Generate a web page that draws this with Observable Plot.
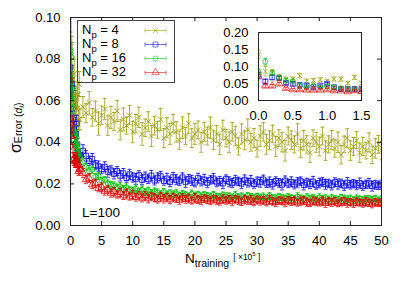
<!DOCTYPE html>
<html><head><meta charset="utf-8">
<script src="https://cdn.jsdelivr.net/npm/d3@7"></script>
<script src="https://cdn.jsdelivr.net/npm/@observablehq/plot@0.6"></script>
<style>
html,body{margin:0;padding:0;background:#fff;}
#wrap{position:relative;width:407px;height:285px;overflow:hidden;font-family:"Liberation Sans",Arial,sans-serif;}
#wrap svg{position:absolute;}
</style></head><body><div id="wrap"></div>
<script>
// ---- data (values and errors in units of 1e-3) ----
const xEarly = [0,0.1,0.2,0.3,0.4,0.5,0.6,0.7,0.8,0.9,1.0,1.1,1.2,1.3,1.4,1.5];
const xMain = d3.range(97).map(i => 2 + 0.5 * i); // grid 2, 2.5, ... 50

const np4Early = [135,86,82,70,63,63,73,57,59,61,56,63,63,51,68,51];
const np4Main = [57,54,59,52,55,49,53,56,48,52,
50,55,46,51,48,53,45,49,52,44,
47,50,43,48,46,51,42,47,44,49,
45,41,47,43,49,42,44,46,40,45,
43,47,41,44,39,46,42,40,45,43,
38,44,41,46,40,42,37,43,45,39,
41,44,38,42,40,36,43,41,39,44,
37,41,39,35,42,40,38,43,36,39,
41,37,40,34,39,42,36,38,41,35,
38,36,40,34,37,39,36];
const np4ErrEarly = [12,14,9,7,6,6,7,6,6,6,5,6,6,5,6,5];
const np4ErrMain = [5.0,4.6,5.4,4.2,4.8,5.6,4.4,5.1,4.7,5.3,
4.3,5.0,4.8,5.5,4.1,4.6,5.2,4.4,4.9,5.4,
4.2,4.7,5.1,4.5,4.0,5.3,4.6,4.8,5.0,4.3,
4.9,4.4,5.2,4.1,4.7,4.5,5.0,4.2,4.8,4.6,
4.3,5.1,4.5,4.0,4.9,4.6,4.2,5.0,4.4,4.7,
4.1,4.8,4.5,5.2,4.3,4.6,4.0,4.9,4.4,4.7,
4.5,4.2,4.8,4.0,4.6,5.0,4.3,4.5,4.1,4.9,
4.4,4.7,4.2,4.6,4.0,4.8,4.5,4.3,4.7,4.1,
4.6,4.2,4.9,4.4,4.0,4.5,4.7,4.3,4.1,4.6,
4.4,4.0,4.5,4.2,4.7,4.3,4.4];

const np8Early = [76,56,68,66,51,49,46,44,39,44,49,39,34,34,34,34];
const np8Main = [36,33.5,31,32,29,28.5,27,28.2,25.8,26.5,
24.8,26.2,23.9,25.1,22.8,24.6,23.1,22.4,24.2,21.9,
23.5,22.2,24.0,21.6,22.9,23.7,21.4,22.6,20.9,23.2,
22.0,21.3,23.1,20.8,22.4,21.7,20.6,22.8,21.2,22.1,
20.5,21.9,22.6,20.7,21.4,20.2,22.3,21.0,20.4,21.8,
21.2,20.1,22.0,20.6,21.5,19.9,21.1,20.8,22.1,20.3,
20.9,19.8,21.4,20.5,19.6,21.6,20.2,21.0,19.7,20.7,
21.3,19.5,20.6,20.0,21.1,19.4,20.4,20.9,19.8,20.2,
19.3,20.8,19.9,20.3,19.1,20.6,19.6,20.1,19.4,20.4,
19.0,19.8,20.3,18.9,19.6,19.3,19.7];
const np8ErrEarly = [7,6,6,5,4,4,4,4,3,4,4,3,3,3,3,3];
const np8ErrMain = [2.8,2.5,2.3,2.6,2.2,2.5,2.1,2.4,2.6,2.2,
2.4,2.1,2.5,2.3,2.0,2.4,2.2,2.6,2.1,2.3,
2.2,2.0,2.5,2.1,2.4,2.3,2.0,2.5,2.2,2.3,
2.4,2.0,2.2,2.5,2.1,2.4,2.0,2.3,2.2,2.5,
2.3,2.0,2.4,2.1,2.2,2.5,2.0,2.4,2.2,2.3,
2.0,2.4,2.3,2.1,2.5,2.0,2.2,2.4,2.1,2.0,
2.4,2.3,2.0,2.1,2.5,2.2,2.0,2.4,2.1,2.3,
2.0,2.4,2.1,2.2,2.5,2.0,2.3,2.1,2.4,2.0,
2.2,2.1,2.4,2.0,2.3,2.5,2.1,2.0,2.2,2.4,
2.1,2.0,2.3,2.4,2.1,2.0,2.2];

const np16Early = [84,114,81,66,59,57,44,39,44,39,42,39,36,34,34,33];
const np16Main = [30.5,28.2,26,26.8,23.4,23.9,21.4,22.0,20.1,19.6,
19.2,18.4,18.9,17.6,18.3,17.1,16.8,17.7,16.3,17.2,
16.0,16.9,15.5,16.4,15.8,15.1,16.2,14.9,15.6,15.0,
15.4,14.5,15.1,14.8,14.2,15.3,14.4,14.9,13.9,14.7,
14.3,13.8,14.8,14.0,13.6,14.5,13.9,14.2,13.4,14.6,
13.7,14.1,13.3,14.4,13.8,13.2,14.0,13.5,13.9,13.1,
14.2,13.4,13.0,13.8,13.5,12.9,13.7,13.3,12.8,13.9,
13.2,12.7,13.6,13.1,13.4,12.6,13.5,12.9,13.2,12.5,
13.3,12.8,12.4,13.4,12.9,12.6,13.1,12.3,13.0,12.7,
12.2,12.9,12.6,12.4,13.0,12.1,12.7];
const np16ErrEarly = [9,10,7,6,5,5,4,4,4,4,4,4,3,3,3,3];
const np16ErrMain = [2.0,1.8,1.7,1.9,1.6,1.8,1.7,1.5,1.8,1.6,
1.7,1.5,1.8,1.6,1.7,1.5,1.6,1.8,1.5,1.7,
1.6,1.5,1.7,1.6,1.8,1.5,1.6,1.7,1.5,1.6,
1.8,1.5,1.7,1.6,1.5,1.7,1.6,1.5,1.8,1.6,
1.5,1.7,1.6,1.5,1.7,1.6,1.8,1.5,1.6,1.7,
1.5,1.6,1.7,1.5,1.6,1.8,1.5,1.6,1.7,1.5,
1.6,1.5,1.7,1.6,1.5,1.7,1.6,1.5,1.6,1.8,
1.5,1.6,1.7,1.5,1.6,1.5,1.7,1.6,1.5,1.6,
1.7,1.5,1.6,1.5,1.7,1.6,1.5,1.6,1.7,1.5,
1.6,1.5,1.7,1.6,1.5,1.6,1.5];

const np32Early = [70,43,43,49,36,32,32,31,31,31,32,29,29,26,29,27];
const np32Main = [25.2,22.1,22.8,19.6,20.3,17.9,18.4,16.5,17.3,15.6,
16.4,14.8,15.9,14.3,15.6,13.8,14.9,13.5,14.6,13.2,
14.4,12.9,14.1,13.3,12.6,14.0,12.8,13.6,12.4,13.7,
12.9,12.2,13.5,12.6,13.1,11.9,13.3,12.4,12.0,13.0,
12.5,11.8,12.9,12.2,11.6,12.8,12.0,12.6,11.5,12.7,
12.1,11.4,12.6,11.9,12.3,11.3,12.5,11.7,12.2,11.2,
12.4,11.6,11.1,12.1,11.8,11.0,12.2,11.5,11.9,10.9,
11.7,12.0,11.2,10.8,11.9,11.4,11.0,11.8,10.7,11.5,
11.1,11.7,10.6,11.3,11.6,10.8,11.2,10.5,11.4,11.0,
10.6,11.3,10.9,10.4,11.2,10.7,11.0];
const np32ErrEarly = [6,4,4,4,3,3,3,3,3,3,3,3,2,2,3,2];
const np32ErrMain = [2.2,2.0,2.1,1.8,2.0,1.7,2.1,1.9,1.7,2.0,
1.9,1.6,2.0,1.8,1.9,1.6,2.0,1.8,1.7,1.9,
1.8,2.0,1.6,1.9,1.8,1.7,2.0,1.8,1.9,1.6,
1.8,2.0,1.7,1.9,1.8,1.6,1.9,1.8,2.0,1.7,
1.9,1.8,1.6,2.0,1.8,1.9,1.7,1.8,2.0,1.6,
1.9,1.8,1.7,1.9,2.0,1.8,1.6,1.9,1.8,1.7,
2.0,1.8,1.9,1.6,1.8,2.0,1.7,1.9,1.8,1.6,
1.9,1.8,2.0,1.7,1.8,1.9,1.6,1.8,2.0,1.7,
1.9,1.8,1.6,1.9,1.8,2.0,1.7,1.8,1.9,1.6,
1.8,2.0,1.7,1.9,1.8,1.6,1.9];

const seriesLabels = ["4", "8", "16", "32"];
const xTicks = [0,5,10,15,20,25,30,35,40,45,50];
const yTicks = [0,0.02,0.04,0.06,0.08,0.10];
const insetXTicks = [0,0.5,1.0,1.5];
const insetYTicks = [0,0.05,0.10,0.15,0.20];

// ---- build tables ----
const FONT = '"Liberation Sans", Arial, sans-serif';
const OP = 0.8;      // data marks
const OP_LEG = 0.55; // legend samples
const styles = [
  {color: "#9a9a00", symbol: "times", r: 2.5},
  {color: "#0000ff", symbol: "square", r: 2.8},
  {color: "#00c000", symbol: "circle", r: 2.5},
  {color: "#e00000", symbol: "triangle", r: 2.8}
];
const raw = [
  [np4Early, np4Main, np4ErrEarly, np4ErrMain],
  [np8Early, np8Main, np8ErrEarly, np8ErrMain],
  [np16Early, np16Main, np16ErrEarly, np16ErrMain],
  [np32Early, np32Main, np32ErrEarly, np32ErrMain]
];
const xs = xEarly.concat(xMain);
const tables = raw.map(([ve, vm, ee, em], k) => {
  const v = ve.concat(vm), e = ee.concat(em);
  return xs.map((x, i) => ({x, y: v[i] / 1000, e: e[i] / 1000, s: seriesLabels[k]}));
});
const earlyTables = tables.map(t => t.slice(0, xEarly.length));

const cap = {draw(ctx) { ctx.moveTo(-2, 0); ctx.lineTo(2, 0); }};

function seriesMarks(data, st, op) {
  const common = {stroke: st.color, strokeOpacity: op, strokeWidth: 1, clip: true};
  return [
    Plot.ruleX(data, {x: "x", y1: d => d.y - d.e, y2: d => d.y + d.e, ...common}),
    Plot.dot(data, {x: "x", y: d => d.y - d.e, symbol: cap, fill: "none", ...common}),
    Plot.dot(data, {x: "x", y: d => d.y + d.e, symbol: cap, fill: "none", ...common}),
    Plot.dot(data, {x: "x", y: "y", symbol: st.symbol, r: st.r, fill: "none", ...common})
  ];
}

const W = 407, H = 285, ML = 70, MR = 26, MT = 17, MB = 60;
const FW = W - ML - MR, FH = H - MT - MB;
const TICK = 4;
const frameColor = "#222";

const main = Plot.plot({
  width: W, height: H,
  marginLeft: ML, marginRight: MR, marginTop: MT, marginBottom: MB,
  style: {fontFamily: FONT, fontSize: "13px", background: "transparent", color: "#000"},
  x: {domain: [0, 50]},
  y: {domain: [0, 0.1]},
  marks: [
    ...tables.flatMap((t, k) => seriesMarks(t, styles[k], OP)),
    Plot.ruleX(xTicks, {x: d => d, insetTop: FH - TICK, stroke: frameColor}),
    Plot.ruleX(xTicks, {x: d => d, insetBottom: FH - TICK, stroke: frameColor}),
    Plot.ruleY(yTicks, {y: d => d, insetRight: FW - TICK, stroke: frameColor}),
    Plot.ruleY(yTicks, {y: d => d, insetLeft: FW - TICK, stroke: frameColor}),
    Plot.frame({stroke: frameColor}),
    Plot.axisX({ticks: xTicks, tickSize: 0, tickPadding: 10, label: null, fontSize: 13, tickFormat: d => String(d)}),
    Plot.axisY({ticks: yTicks, tickSize: 0, tickPadding: 10, label: null, fontSize: 13, tickFormat: d3.format(".2f")})
  ]
});
main.style.left = "0px"; main.style.top = "0px";

const IW = 165, IH = 105, IML = 40, IMR = 22, IMT = 12, IMB = 25;
const inset = Plot.plot({
  width: IW, height: IH,
  marginLeft: IML, marginRight: IMR, marginTop: IMT, marginBottom: IMB,
  style: {fontFamily: FONT, fontSize: "13px", background: "transparent", color: "#000"},
  x: {domain: [0, 1.5]},
  y: {domain: [0, 0.2]},
  marks: [
    ...earlyTables.flatMap((t, k) => seriesMarks(t, styles[k], 0.65)),
    Plot.frame({stroke: frameColor}),
    Plot.axisX({ticks: insetXTicks, tickSize: 0, tickPadding: 10, label: null, fontSize: 13, tickFormat: d3.format(".1f")}),
    Plot.axisY({ticks: insetYTicks, tickSize: 0, tickPadding: 10, label: null, fontSize: 13, tickFormat: d3.format(".2f")})
  ]
});
inset.style.left = (258 - IML) + "px"; inset.style.top = (32 - IMT) + "px";

const wrap = document.getElementById("wrap");
wrap.appendChild(main);
wrap.appendChild(inset);

// ---- overlay: legend, axis titles, annotation ----
const NS = "http://www.w3.org/2000/svg";
const ov = document.createElementNS(NS, "svg");
ov.setAttribute("width", W); ov.setAttribute("height", H);
ov.style.left = "0px"; ov.style.top = "0px";
ov.setAttribute("font-family", FONT);
let html = `<rect x="77.5" y="20.5" width="97" height="62" fill="none" stroke="#444" stroke-width="1"/>`;
const rowBase = [34, 48, 62, 76];
seriesLabels.forEach((lab, k) => {
  const st = styles[k];
  const yb = rowBase[k];
  const ym = yb - 3.5;
  html += `<text x="82" y="${yb}" font-size="13">N<tspan font-size="9.5" dy="4">p</tspan><tspan dy="-4"> = ${lab}</tspan></text>`;
  const c = `stroke="${st.color}" stroke-opacity="${OP_LEG}" fill="none" stroke-width="1"`;
  html += `<line x1="145" x2="166" y1="${ym}" y2="${ym}" ${c}/>`;
  html += `<line x1="145" x2="145" y1="${ym - 2}" y2="${ym + 2}" ${c}/>`;
  html += `<line x1="166" x2="166" y1="${ym - 2}" y2="${ym + 2}" ${c}/>`;
  const typ = {times: d3.symbolTimes, square: d3.symbolSquare, circle: d3.symbolCircle, triangle: d3.symbolTriangle}[st.symbol];
  const p = d3.symbol().type(typ).size(st.r * st.r * Math.PI)();
  html += `<path transform="translate(155.5,${ym})" d="${p}" ${c}/>`;
});
html += `<text x="82" y="217" font-size="13.5">L=100</text>`;
html += `<text x="185" y="263" font-size="13.5">N<tspan font-size="10.5" dy="4">training</tspan><tspan font-size="8.5" dx="4" dy="-7">[ ×10</tspan><tspan font-size="6" dy="-4">5</tspan><tspan font-size="8.5" dy="4"> ]</tspan></text>`;
html += `<text transform="translate(21,153) rotate(-90)" font-size="16">σ<tspan font-size="10.5" dy="1">Error (</tspan><tspan font-size="10.5" font-style="italic">d</tspan><tspan font-size="7" dy="2" font-style="italic">i</tspan><tspan font-size="10.5" dy="-2">)</tspan></text>`;
ov.innerHTML = html;
wrap.appendChild(ov);
</script>
</body></html>
